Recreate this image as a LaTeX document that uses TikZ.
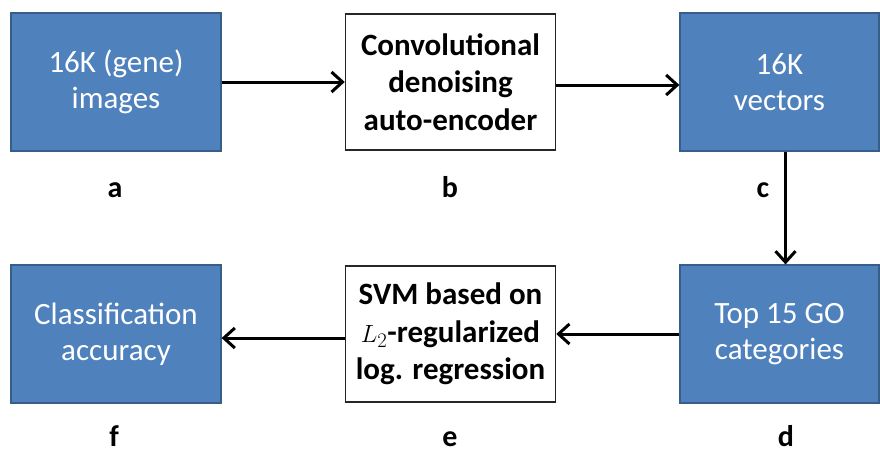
\documentclass[tikz,border=0pt]{standalone}
\usepackage{fontspec}
\setmainfont{Carlito}
\usetikzlibrary{arrows.meta}
\definecolor{boxblue}{HTML}{4F81BD}
\definecolor{boxedge}{HTML}{385D8A}
\tikzset{
  bluebox/.style={draw=boxedge, line width=1.2pt, fill=boxblue, text=white,
    minimum width=210pt, minimum height=138pt, align=center,
    font=\fontsize{31}{36}\selectfont, inner sep=0pt},
  whitebox/.style={draw=black!85, line width=1.5pt, fill=white, text=black,
    minimum width=210pt, minimum height=136pt, align=center,
    font=\fontsize{31}{37.5}\selectfont\bfseries, inner sep=0pt},
  tag/.style={font=\fontsize{30}{30}\selectfont\bfseries, inner sep=0pt, anchor=base},
  flow/.style={line width=3pt, -{Straight Barb[length=11pt,width=20pt,line width=3pt]}}
}
\begin{document}
\begin{tikzpicture}[x=1pt,y=-1pt]
\useasboundingbox (0,0) rectangle (880,452);
\node[bluebox] (a) at (116,82) {16K (gene)\\images};
\node[whitebox] (b) at (450.5,82) {Convolutional\\denoising\\auto-encoder};
\node[bluebox, minimum width=199pt] (c) at (779.5,82) {16K\\vectors};
\node[bluebox, minimum width=199pt] (d) at (779.5,334) {Top 15 GO\\categories};
\node[whitebox] (e) at (450.5,334) {SVM based on\\$L_2$-regularized\\log. regression};
\node[bluebox] (f) at (116,334) {Classification\\accuracy};

\node[tag] (la) at (115,197) {a};
\node[tag] (lb) at (450,197) {b};
\node[tag] (lc) at (763,197) {c};
\node[tag] (ld) at (786,446) {d};
\node[tag] (le) at (450,446) {e};
\node[tag] (lf) at (114,446) {f};

\draw[flow] (a) -- (b);
\draw[flow] ([yshift=-3pt]b.east) -- ([yshift=-3pt]c.west);
\draw[flow] ([xshift=6pt]c.south) -- ([xshift=6pt]c.south |- d.north);
\draw[flow] (d) -- (e);
\draw[flow] ([yshift=-4pt]e.west) -- ([yshift=-4pt]f.east);
\end{tikzpicture}
\end{document}
